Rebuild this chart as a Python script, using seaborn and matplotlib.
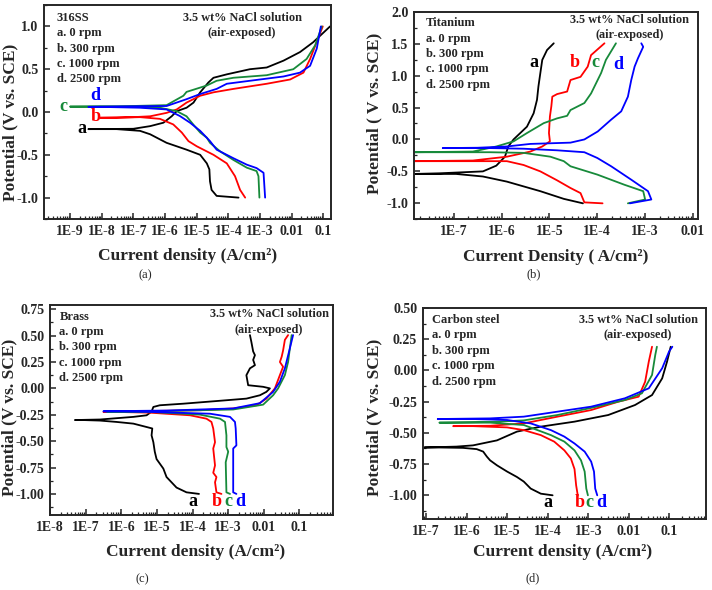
import numpy as np
import matplotlib
matplotlib.use("Agg")
import matplotlib.pyplot as plt
import seaborn as sns
from matplotlib.ticker import (LogLocator, FixedLocator, FuncFormatter, MultipleLocator,
                               NullFormatter, FormatStrFormatter)

# ----------------------------------------------------------
# DATA  (log10 of current density, potential in V vs SCE)
# ----------------------------------------------------------

# (a) 316SS
ss_a_logi = [-3.68, -4.37, -4.53, -4.58, -4.60, -4.68, -4.89, -5.32, -5.95, -6.47, -6.79, -7.53, -8.42,
             -7.0, -6.47, -6.05, -5.79, -5.63, -5.32, -5.10, -4.89, -4.63, -4.47, -4.05, -3.32, -2.79,
             -2.26, -1.74, -1.32, -0.79]
ss_a_pot = [-1.0, -0.98, -0.91, -0.81, -0.67, -0.60, -0.50, -0.44, -0.36, -0.26, -0.22, -0.20, -0.20,
            -0.196, -0.165, -0.125, -0.05, 0.01, 0.05, 0.11, 0.23, 0.345, 0.40, 0.44, 0.50, 0.52,
            0.60, 0.70, 0.816, 1.0]
ss_b_logi = [-3.47, -3.63, -3.79, -4.05, -4.47, -5.0, -5.26, -5.47, -5.74, -6.16, -6.79, -7.53, -8.05,
             -7.0, -6.47, -5.95, -5.63, -5.32, -4.89, -4.47, -3.84, -2.79, -2.05, -1.63, -1.42, -1.21, -1.02]
ss_b_pot = [-1.0, -0.91, -0.75, -0.60, -0.50, -0.40, -0.34, -0.24, -0.145, -0.08, -0.06, -0.067, -0.067,
            -0.06, -0.05, -0.01, 0.03, 0.11, 0.19, 0.23, 0.27, 0.33, 0.38, 0.46, 0.62, 0.82, 1.0]
ss_c_logi = [-3.02, -3.05, -3.11, -3.42, -3.84, -4.26, -4.58, -4.68, -4.89, -5.11, -5.32, -5.63, -6.16,
             -7.0, -8.05, -9.0, -7.5, -5.95, -5.42, -5.32, -4.68, -4.37, -3.84, -2.79, -1.95, -1.53,
             -1.26, -1.05]
ss_c_pot = [-1.0, -0.75, -0.69, -0.65, -0.56, -0.46, -0.36, -0.30, -0.24, -0.145, -0.05, 0.01, 0.05,
            0.06, 0.063, 0.063, 0.066, 0.08, 0.19, 0.235, 0.31, 0.365, 0.40, 0.43, 0.50, 0.62, 0.78, 1.0]
ss_d_logi = [-2.84, -2.89, -3.11, -3.42, -3.84, -4.37, -4.58, -4.89, -5.21, -5.53, -5.95, -6.79, -8.05,
             -8.42, -7.5, -5.95, -5.32, -4.89, -4.37, -4.05, -3.32, -2.26, -1.74, -1.42, -1.21, -1.08]
ss_d_pot = [-1.0, -0.71, -0.655, -0.615, -0.54, -0.44, -0.34, -0.22, -0.125, -0.047, 0.03, 0.05, 0.06,
            0.06, 0.065, 0.07, 0.15, 0.21, 0.27, 0.33, 0.365, 0.415, 0.46, 0.54, 0.74, 1.0]

# (b) Titanium
ti_a_logi = [-4.30, -4.70, -5.19, -5.89, -6.39, -6.95, -7.30, -7.83, -7.3, -6.39, -6.11, -5.93, -5.86,
             -5.75, -5.61, -5.47, -5.33, -5.26, -5.23, -5.19, -5.15, -5.05, -4.91]
ti_a_pot = [-1.0, -0.93, -0.81, -0.66, -0.58, -0.54, -0.54, -0.54, -0.53, -0.50, -0.41, -0.27, -0.11,
            0.0, 0.10, 0.20, 0.41, 0.62, 0.83, 1.04, 1.245, 1.40, 1.505]
ti_b_logi = [-3.89, -4.27, -4.30, -4.35, -4.56, -4.84, -5.19, -5.54, -5.89, -6.6, -7.83, -6.6, -5.89,
             -5.40, -5.15, -4.99, -5.01, -4.99, -4.96, -4.94, -4.84, -4.63, -4.56, -4.35, -4.20, -4.13, -3.85]
ti_b_pot = [-1.0, -0.985, -0.93, -0.84, -0.76, -0.64, -0.50, -0.40, -0.34, -0.34, -0.34, -0.33, -0.27,
            -0.19, -0.11, -0.03, 0.10, 0.36, 0.52, 0.67, 0.71, 0.75, 0.93, 0.98, 1.14, 1.32, 1.505]
ti_c_logi = [-3.36, -3.0, -3.04, -3.43, -4.0, -4.56, -4.70, -4.98, -5.54, -6.25, -7.83, -6.6, -6.11,
             -5.75, -5.47, -5.12, -4.84, -4.63, -4.56, -4.27, -4.13, -3.92, -3.82, -3.61]
ti_c_pot = [-1.0, -0.94, -0.81, -0.71, -0.55, -0.42, -0.34, -0.27, -0.21, -0.20, -0.20, -0.19, -0.11,
            -0.03, 0.10, 0.255, 0.33, 0.37, 0.46, 0.57, 0.72, 1.04, 1.245, 1.505]
ti_d_logi = [-3.32, -2.87, -2.94, -3.29, -3.71, -4.0, -4.27, -4.84, -5.54, -6.25, -7.23, -6.5, -5.89,
             -5.40, -4.56, -4.27, -3.99, -3.71, -3.50, -3.36, -3.29, -3.22, -3.15, -3.04, -3.08]
ti_d_pot = [-1.0, -0.94, -0.81, -0.63, -0.42, -0.29, -0.20, -0.17, -0.145, -0.135, -0.135, -0.13, -0.11,
            -0.07, -0.05, 0.0, 0.125, 0.31, 0.44, 0.67, 0.93, 1.14, 1.27, 1.45, 1.505]

# (c) Brass
br_a_logi = [-3.82, -4.17, -4.45, -4.73, -4.82, -5.01, -5.06, -5.10, -5.15, -5.13, -5.29, -5.66, -6.13,
             -6.60, -7.07, -7.30, -6.6, -5.66, -5.29, -5.15, -5.10, -4.92, -4.26, -3.33, -2.49, -2.11,
             -1.93, -1.83, -2.02, -2.44, -2.49, -2.39, -2.25, -2.30, -2.25, -2.30, -2.35, -2.39]
br_a_pot = [-1.0, -0.985, -0.94, -0.84, -0.76, -0.67, -0.60, -0.51, -0.445, -0.38, -0.366, -0.334, -0.318,
            -0.305, -0.30, -0.30, -0.295, -0.27, -0.255, -0.22, -0.176, -0.16, -0.145, -0.12, -0.097, -0.065,
            -0.033, 0.0, 0.015, 0.03, 0.125, 0.19, 0.22, 0.27, 0.315, 0.35, 0.44, 0.505]
br_b_logi = [-3.19, -3.33, -3.37, -3.33, -3.42, -3.37, -3.42, -3.37, -3.42, -3.47, -3.61, -4.07, -5.20,
             -6.13, -6.50, -5.66, -3.79, -2.86, -2.21, -1.93, -1.69, -1.55, -1.46, -1.55, -1.50, -1.46,
             -1.41, -1.32]
br_b_pot = [-1.0, -0.985, -0.89, -0.84, -0.80, -0.73, -0.57, -0.51, -0.38, -0.318, -0.287, -0.255, -0.23,
            -0.223, -0.223, -0.217, -0.207, -0.19, -0.16, -0.097, 0.0, 0.126, 0.205, 0.25, 0.30, 0.36,
            0.46, 0.505]
br_c_logi = [-2.95, -3.05, -3.07, -3.0, -3.05, -3.05, -3.09, -3.23, -3.79, -5.20, -6.41, -4.73, -2.86,
             -2.02, -1.74, -1.60, -1.41, -1.32, -1.27, -1.22]
br_c_pot = [-1.0, -0.985, -0.70, -0.60, -0.556, -0.445, -0.318, -0.287, -0.249, -0.223, -0.22, -0.214,
            -0.20, -0.154, -0.065, 0.0, 0.126, 0.25, 0.38, 0.505]
br_d_logi = [-2.77, -2.86, -2.86, -2.77, -2.79, -2.81, -2.95, -3.51, -5.20, -6.50, -4.73, -2.86, -2.11,
             -1.74, -1.55, -1.41, -1.27, -1.18]
br_d_pot = [-1.0, -0.985, -0.57, -0.54, -0.38, -0.318, -0.27, -0.24, -0.223, -0.217, -0.21, -0.19, -0.14,
            -0.033, 0.063, 0.19, 0.38, 0.505]

# (d) Carbon steel
cs_a_logi = [-3.88, -4.17, -4.42, -4.59, -4.76, -5.0, -5.25, -5.42, -5.50, -5.59, -5.75, -6.09, -6.67,
             -7.04, -6.25, -5.84, -5.25, -4.76, -4.17, -3.34, -2.51, -1.85, -1.43, -1.18, -1.06, -0.97]
cs_a_pot = [-1.0, -0.987, -0.946, -0.89, -0.853, -0.81, -0.76, -0.72, -0.69, -0.65, -0.63, -0.62, -0.617,
            -0.617, -0.61, -0.60, -0.56, -0.49, -0.45, -0.41, -0.357, -0.277, -0.197, -0.063, 0.071, 0.19]
cs_b_logi = [-3.26, -3.30, -3.34, -3.43, -3.59, -3.84, -4.17, -4.59, -5.0, -5.84, -6.33, -5.42, -4.59,
             -3.76, -2.93, -2.26, -1.76, -1.60, -1.51, -1.43]
cs_b_pot = [-1.0, -0.92, -0.79, -0.705, -0.64, -0.57, -0.518, -0.478, -0.456, -0.446, -0.446, -0.443,
            -0.424, -0.37, -0.317, -0.25, -0.21, -0.09, 0.071, 0.19]
cs_c_logi = [-3.01, -3.05, -3.09, -3.18, -3.34, -3.59, -3.92, -4.59, -5.42, -6.67, -5.42, -4.59, -3.76,
             -2.93, -2.10, -1.68, -1.43, -1.35, -1.31]
cs_c_pot = [-1.0, -0.946, -0.81, -0.72, -0.64, -0.57, -0.518, -0.437, -0.418, -0.418, -0.413, -0.40,
            -0.357, -0.30, -0.237, -0.183, -0.036, 0.125, 0.19]
cs_d_logi = [-2.78, -2.83, -2.86, -2.93, -3.09, -3.34, -3.59, -3.92, -4.42, -5.0, -5.84, -6.71, -5.42,
             -4.59, -3.76, -2.93, -2.10, -1.51, -1.18, -1.01, -0.93]
cs_d_pot = [-1.0, -0.946, -0.81, -0.73, -0.65, -0.585, -0.53, -0.478, -0.424, -0.397, -0.389, -0.389,
            -0.384, -0.37, -0.33, -0.29, -0.223, -0.143, 0.018, 0.152, 0.19]

rpm_labels = ["a. 0 rpm", "b. 300 rpm", "c. 1000 rpm", "d. 2500 rpm"]
curve_letters = ["a", "b", "c", "d"]
colors = ["black", "#ff0000", "#178a3a", "#0000ff"]

# ----------------------------------------------------------
# STYLE
# ----------------------------------------------------------

sns.set_style("ticks")
plt.rcParams['font.family'] = ['Liberation Serif', 'DejaVu Serif']
plt.rcParams['font.weight'] = 'bold'
plt.rcParams['axes.linewidth'] = 1.4
plt.rcParams['xtick.direction'] = 'in'
plt.rcParams['ytick.direction'] = 'in'

fig = plt.figure(figsize=(7.12, 5.9), dpi=100)


def xfmt(v, pos):
    e = int(round(np.log10(v)))
    if e <= -3:
        return "1E%d" % e
    if e == -2:
        return "0.01"
    if e == -1:
        return "0.1"
    return "%g" % (10.0 ** e)


def panel(rect, curves, xlim, ylim, ystep, yfmt, xlabel, ylabel,
          xl_pos, yl_pos, title, leg_pos, nacl_pos, letter_pos):
    ax = fig.add_axes(rect)
    ax.set_xscale('log')
    for (logi, pot), col in zip(curves, colors):
        sns.lineplot(x=10 ** np.array(logi), y=pot, sort=False, estimator=None,
                     color=col, lw=1.3, ax=ax)
    ax.set_xlim(10 ** xlim[0], 10 ** xlim[1])
    ax.set_ylim(*ylim)
    # only decades inside the visible range get a labelled tick
    decades = np.arange(np.ceil(xlim[0]), np.floor(xlim[1]) + 1)
    ax.xaxis.set_major_locator(FixedLocator(10.0 ** decades))
    ax.xaxis.set_minor_locator(LogLocator(base=10, subs=np.arange(2, 10), numticks=20))
    ax.xaxis.set_minor_formatter(NullFormatter())
    ax.xaxis.set_major_formatter(FuncFormatter(xfmt))
    ax.yaxis.set_major_locator(MultipleLocator(ystep))
    ax.yaxis.set_minor_locator(MultipleLocator(ystep / 2))
    ax.yaxis.set_major_formatter(FormatStrFormatter(yfmt))
    ax.tick_params(which='major', length=4, width=1.1, labelsize=10, pad=4)
    ax.tick_params(which='minor', length=2, width=0.9)
    ax.set_xlabel(xlabel, fontsize=12.5, fontweight='bold', va='center')
    ax.set_ylabel(ylabel, fontsize=12.5, fontweight='bold', va='center')
    ax.xaxis.set_label_coords(*xl_pos)
    ax.yaxis.set_label_coords(*yl_pos)

    x0, y0, dy = leg_pos
    for i, t in enumerate([title] + rpm_labels):
        ax.text(x0, y0 - i * dy, t, transform=ax.transAxes, fontsize=9,
                fontweight='bold', va='center', ha='left')
    nx, ny, ndy = nacl_pos
    ax.text(nx, ny, "3.5 wt% NaCl solution", transform=ax.transAxes, fontsize=8.8,
            fontweight='bold', va='center', ha='center')
    ax.text(nx, ny - ndy, "(air-exposed)", transform=ax.transAxes, fontsize=8.8,
            fontweight='bold', va='center', ha='center')
    for (lx, ly), let, col in zip(letter_pos, curve_letters, colors):
        ax.text(10 ** lx, ly, let, color=col, fontsize=13, fontweight='bold',
                ha='center', va='center')
    return ax


# ----------------------------------------------------------
# PANELS
# ----------------------------------------------------------

panel([0.0618, 0.6288, 0.4031, 0.3627],
      [(ss_a_logi, ss_a_pot), (ss_b_logi, ss_b_pot), (ss_c_logi, ss_c_pot), (ss_d_logi, ss_d_pot)],
      (-9.82, -0.76), (-1.25, 1.25), 0.5, '%.1f',
      "Current density (A/cm²)", "Potential (V vs. SCE)",
      (0.50, -0.175), (-0.116, 0.45), "316SS",
      (0.044, 0.938, 0.071), (0.69, 0.94, 0.07),
      [(-8.63, -0.196), (-8.18, -0.055), (-9.21, 0.07), (-8.21, 0.19)])

panel([0.5815, 0.6283, 0.3985, 0.3519],
      [(ti_a_logi, ti_a_pot), (ti_b_logi, ti_b_pot), (ti_c_logi, ti_c_pot), (ti_d_logi, ti_d_pot)],
      (-7.83, -1.9), (-1.25, 2.0), 0.5, '%.1f',
      "Current Density ( A/cm²)", "Potential ( V vs. SCE)",
      (0.50, -0.18), (-0.141, 0.51), "Titanium",
      (0.041, 0.944, 0.074), (0.76, 0.96, 0.072),
      [(-5.32, 1.20), (-4.47, 1.20), (-4.03, 1.20), (-3.57, 1.17)])

panel([0.0702, 0.1271, 0.3975, 0.3559],
      [(br_a_logi, br_a_pot), (br_b_logi, br_b_pot), (br_c_logi, br_c_pot), (br_d_logi, br_d_pot)],
      (-8.0, -0.06), (-1.2, 0.79), 0.25, '%.2f',
      "Current density (A/cm²)", "Potential (V vs. SCE)",
      (0.516, -0.176), (-0.145, 0.467), "Brass",
      (0.033, 0.944, 0.073), (0.774, 0.956, 0.075),
      [(-3.98, -1.07), (-3.31, -1.07), (-3.0, -1.07), (-2.67, -1.07)])

panel([0.5937, 0.1203, 0.3979, 0.3576],
      [(cs_a_logi, cs_a_pot), (cs_b_logi, cs_b_pot), (cs_c_logi, cs_c_pot), (cs_d_logi, cs_d_pot)],
      (-7.08, -0.1), (-1.19, 0.5), 0.25, '%.2f',
      "Current density (A/cm²)", "Potential (V vs. SCE)",
      (0.495, -0.156), (-0.172, 0.483), "Carbon steel",
      (0.033, 0.945, 0.074), (0.76, 0.945, 0.075),
      [(-3.99, -1.06), (-3.22, -1.06), (-2.97, -1.06), (-2.69, -1.06)])

for txt, x, y in [("(a)", 145, 275), ("(b)", 534, 274), ("(c)", 142, 579), ("(d)", 533, 578)]:
    fig.text(x / 712, 1 - y / 590, txt, fontsize=9, fontweight='normal', ha='center', va='center')

fig.savefig("out.png", dpi=100)
